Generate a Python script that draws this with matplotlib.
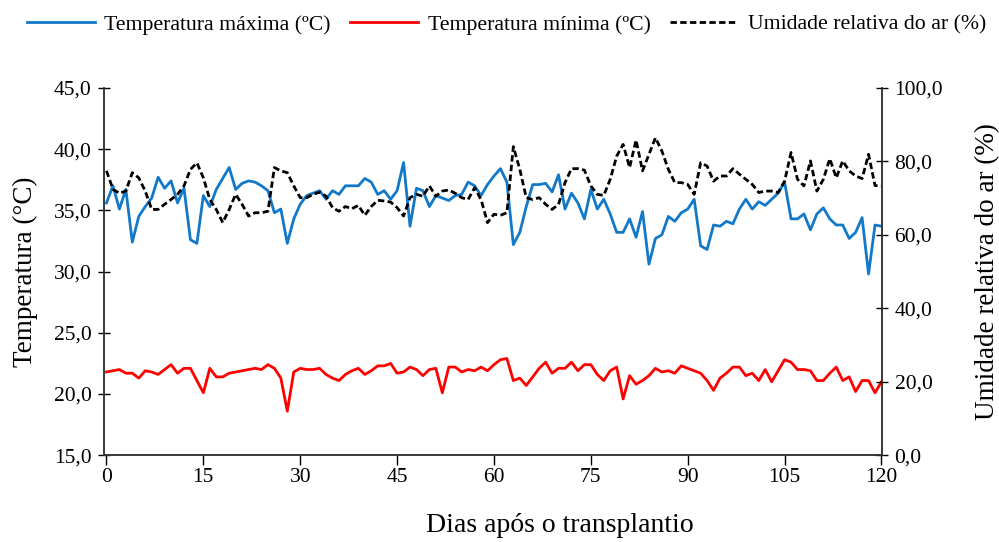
import numpy as np
import matplotlib
matplotlib.use("Agg")
import matplotlib.pyplot as plt
from matplotlib.ticker import FuncFormatter, MultipleLocator

plt.rcParams['font.family'] = ['Liberation Serif', 'DejaVu Serif']

dias = list(range(121))

t_max = [35.6, 37.0, 35.1, 36.7, 32.4, 34.5, 35.3, 36.0, 37.7, 36.8, 37.4, 35.6, 36.8, 32.6, 32.3,
         36.2, 35.3, 36.7, 37.6, 38.5, 36.7, 37.2, 37.4, 37.3, 37.0, 36.6, 34.8, 35.1, 32.3, 34.3,
         35.5, 36.2, 36.4, 36.6, 35.9, 36.6, 36.3, 37.0, 37.0, 37.0, 37.6, 37.3, 36.3, 36.6, 35.9,
         36.6, 38.9, 33.7, 36.8, 36.6, 35.3, 36.2, 36.0, 35.8, 36.2, 36.3, 37.3, 37.0, 36.2, 37.1,
         37.8, 38.4, 37.3, 32.2, 33.2, 35.3, 37.1, 37.1, 37.2, 36.5, 37.9, 35.1, 36.4, 35.6, 34.3,
         36.7, 35.1, 35.9, 34.7, 33.2, 33.2, 34.3, 32.8, 34.9, 30.6, 32.7, 33.0, 34.5, 34.1, 34.8,
         35.1, 35.9, 32.1, 31.8, 33.8, 33.7, 34.1, 33.9, 35.1, 35.9, 35.1, 35.7, 35.4, 35.9, 36.4,
         37.3, 34.3, 34.3, 34.7, 33.4, 34.7, 35.2, 34.3, 33.8, 33.8, 32.7, 33.2, 34.4, 29.8, 33.8,
         33.7]

t_min = [21.8, 21.9, 22.0, 21.7, 21.7, 21.3, 21.9, 21.8, 21.6, 22.0, 22.4, 21.7, 22.1, 22.1, 21.1,
         20.1, 22.1, 21.4, 21.4, 21.7, 21.8, 21.9, 22.0, 22.1, 22.0, 22.4, 22.1, 21.3, 18.6, 21.8,
         22.1, 22.0, 22.0, 22.1, 21.6, 21.3, 21.1, 21.6, 21.9, 22.1, 21.6, 21.9, 22.3, 22.3, 22.5,
         21.7, 21.8, 22.2, 22.0, 21.5, 22.0, 22.1, 20.1, 22.2, 22.2, 21.8, 22.0, 21.9, 22.2, 21.9,
         22.4, 22.8, 22.9, 21.1, 21.3, 20.7, 21.4, 22.1, 22.6, 21.7, 22.1, 22.1, 22.6, 21.9, 22.4,
         22.4, 21.6, 21.1, 21.9, 22.2, 19.6, 21.5, 20.8, 21.1, 21.5, 22.1, 21.8, 21.9, 21.7, 22.3,
         22.1, 21.9, 21.7, 21.1, 20.3, 21.3, 21.7, 22.2, 22.2, 21.5, 21.7, 21.1, 22.0, 21.0, 21.9,
         22.8, 22.6, 22.0, 22.0, 21.9, 21.1, 21.1, 21.7, 22.2, 21.1, 21.4, 20.2, 21.1, 21.1, 20.1,
         21.0]

umidade = [77.4, 72.4, 71.3, 71.9, 76.9, 75.5, 71.9, 66.9, 66.9, 68.3, 69.6, 71.0, 73.3, 77.8, 79.6,
           75.5, 69.6, 66.9, 63.3, 66.9, 71.0, 68.3, 65.1, 66.0, 66.0, 66.4, 78.3, 77.4, 76.9, 73.3,
           70.1, 70.1, 71.0, 71.6, 70.5, 67.4, 66.4, 67.7, 67.1, 68.0, 65.3, 67.7, 69.4, 69.2, 68.9,
           67.4, 65.1, 70.1, 71.0, 70.5, 73.3, 70.5, 71.9, 72.2, 71.3, 70.1, 69.6, 72.8, 69.6, 63.3,
           65.6, 65.3, 66.0, 84.0, 77.8, 70.1, 69.6, 70.1, 68.3, 66.9, 68.3, 74.2, 78.0, 78.0, 77.6,
           73.3, 71.0, 70.7, 75.1, 81.4, 84.6, 78.3, 85.8, 77.4, 81.9, 86.4, 82.8, 77.8, 74.2, 74.2,
           73.7, 71.0, 79.6, 78.7, 74.6, 76.0, 76.0, 78.0, 76.5, 75.1, 73.7, 71.5, 71.9, 71.9, 71.5,
           74.6, 82.4, 75.1, 73.3, 80.1, 71.9, 75.1, 80.7, 75.5, 80.1, 77.4, 76.0, 75.3, 81.9, 73.4,
           73.3]

virgula = FuncFormatter(lambda v, p: f"{v:.1f}".replace('.', ','))

fig = plt.figure(figsize=(9.99, 5.42), dpi=100)
ax1 = fig.add_axes([0.104, 0.16, 0.779, 0.678])
ax2 = ax1.twinx()

l1, = ax1.plot(dias, t_max, color='#1278c8', lw=2.0, label='Temperatura máxima (ºC)')
l2, = ax1.plot(dias, t_min, color='#ff0000', lw=2.0, label='Temperatura mínima (ºC)')
l3, = ax2.plot(dias, umidade, color='black', lw=2.0, ls=(0, (2.3, 1.2)),
               label='Umidade relativa do ar (%)')

ax1.set_xlim(-0.4, 120.1)
ax1.set_ylim(15, 45)
ax2.set_ylim(0, 100)
ax1.xaxis.set_major_locator(MultipleLocator(15))
ax1.yaxis.set_major_locator(MultipleLocator(5))
ax2.yaxis.set_major_locator(MultipleLocator(20))
ax1.yaxis.set_major_formatter(virgula)
ax2.yaxis.set_major_formatter(virgula)

for ax in (ax1, ax2):
    ax.spines['top'].set_visible(False)
    for s in ax.spines.values():
        s.set_color('#333333')
        s.set_linewidth(1.1)
ax1.tick_params(axis='x', direction='out', length=7, width=1, labelsize=15.5, pad=2)
ax1.tick_params(axis='y', direction='inout', length=8, width=1, labelsize=15.5, pad=5)
ax2.tick_params(axis='y', direction='inout', length=8, width=1, labelsize=15.5, pad=5)

ax1.set_ylabel('Temperatura (°C)', fontsize=19.5, labelpad=11)
ax2.set_ylabel('Umidade relativa do ar (%)', fontsize=19.5, labelpad=23)
fig.text(0.56, 0.03, 'Dias após o transplantio', fontsize=20, ha='center', va='center')

fig.legend(handles=[l1, l2, l3], loc='center', bbox_to_anchor=(0.507, 0.955), ncol=3,
           frameon=False, fontsize=15.7, handlelength=3.1, handletextpad=0.45,
           columnspacing=0.9, borderaxespad=0)

fig.savefig('out.png', dpi=100)
